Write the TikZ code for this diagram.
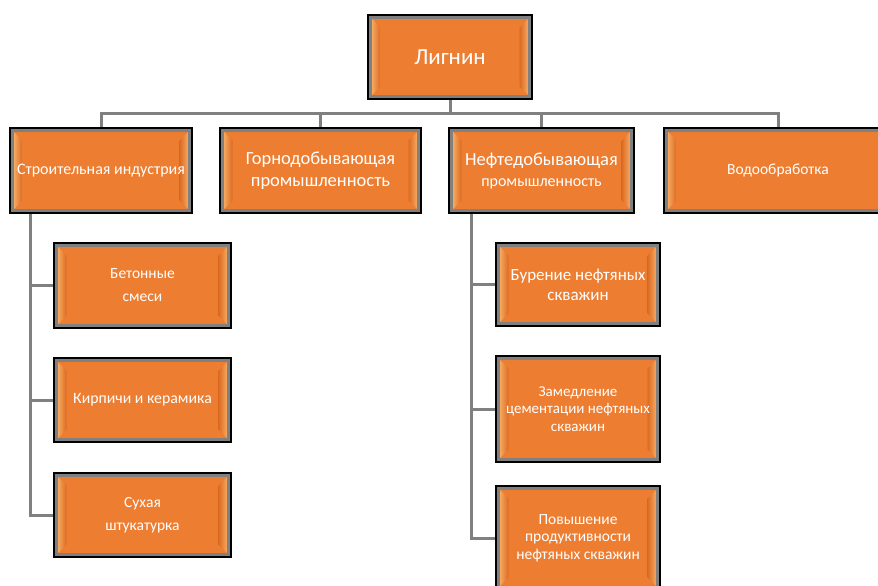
\documentclass[tikz,border=0pt]{standalone}
\usepackage{fontspec}
\setmainfont{Carlito}
\usetikzlibrary{positioning,calc,backgrounds}
\definecolor{boxorange}{HTML}{ED7D31}
\definecolor{bevlight}{HTML}{FFCB80}
\definecolor{bevdark}{HTML}{DC6A22}
\definecolor{linkgray}{HTML}{808080}
\newcommand{\fs}[2]{\fontsize{#1}{#2}\selectfont}

\tikzset{
  branch/.style={draw=linkgray, line width=3pt, fill=boxorange, text=white, align=center,
    inner sep=2pt, outer sep=0pt, preaction={draw=black, line width=7pt},
    path picture={
      \path (path picture bounding box.north west) coordinate (pnw)
            (path picture bounding box.south west) coordinate (psw)
            (path picture bounding box.north east) coordinate (pne)
            (path picture bounding box.south east) coordinate (pse);
      \fill[left color=bevlight!70!boxorange, middle color=bevlight, right color=bevdark]
        (psw) -- (pnw) -- ($(pnw)+(10,-10)$) -- ($(psw)+(10,10)$) -- cycle;
      \fill[left color=bevdark, middle color=bevlight, right color=bevlight!70!boxorange]
        (pse) -- (pne) -- ($(pne)+(-10,-10)$) -- ($(pse)+(-10,10)$) -- cycle;
    }},
  link/.style={draw=linkgray, line width=3pt},
}

\begin{document}
\begin{tikzpicture}[x=1pt, y=1pt, node distance=35pt]
  \useasboundingbox (0,0) rectangle (878,-586);
  \node[branch, minimum width=159pt, minimum height=79pt, font=\fs{23}{28}] (lig) at (450,-57) {Лигнин};

  % first level
  \node[branch, minimum width=177pt, minimum height=80pt, font=\fs{16}{19}] (stroy) at (101,-170.5) {Строительная индустрия};
  \node[branch, minimum width=196pt, minimum height=80pt, font=\fs{18.5}{22}, right=33pt of stroy] (gorno) {Горнодобывающая\\промышленность};
  \node[branch, minimum width=180pt, minimum height=80pt, font=\fs{16}{21}, right=33pt of gorno] (neft) {{\fs{18.5}{22}Нефтедобывающая}\\промышленность};
  \node[branch, minimum width=223pt, minimum height=80pt, font=\fs{15.5}{19}, right=35pt of neft] (vodo) {Водообработка};

  % building industry
  \node[branch, minimum width=172pt, minimum height=80pt, font=\fs{15.5}{23}, below=35pt of stroy, xshift=41.5pt] (beton) {Бетонные\\смеси};
  \node[branch, minimum width=172pt, minimum height=79pt, font=\fs{15.8}{19}, below=35pt of beton] (kirp) {Кирпичи и керамика};
  \node[branch, minimum width=172pt, minimum height=79pt, font=\fs{15.5}{23}, below=36pt of kirp] (sukh) {Сухая\\штукатурка};

  % oil industry
  \node[branch, minimum width=159pt, minimum height=78pt, font=\fs{17}{20}, below=35pt of neft, xshift=36.5pt] (bur) {Бурение нефтяных\\скважин};
  \node[branch, minimum width=159pt, minimum height=101pt, font=\fs{15}{17.5}, below=35pt of bur] (zamed) {Замедление\\цементации нефтяных\\скважин};
  \node[branch, minimum width=159pt, minimum height=99pt, font=\fs{15.5}{17.7}, below=29pt of zamed] (povysh) {Повышение\\продуктивности\\нефтяных скважин};

  \begin{scope}[on background layer]
    \coordinate (bus) at ($(lig.south)+(0,-17)$);
    \foreach \k in {stroy,gorno,neft,vodo}
      \draw[link] (lig.south) -- (bus) -| (\k.north);
    \coordinate (stroytrunk) at ($(stroy.south west)+(18,0)$);
    \foreach \k in {beton,kirp,sukh}
      \draw[link] (stroytrunk) |- (\k.west);
    \coordinate (nefttrunk) at ($(neft.south west)+(19.5,0)$);
    \foreach \k in {bur,zamed,povysh}
      \draw[link] (nefttrunk) |- (\k.west);
  \end{scope}
\end{tikzpicture}
\end{document}
